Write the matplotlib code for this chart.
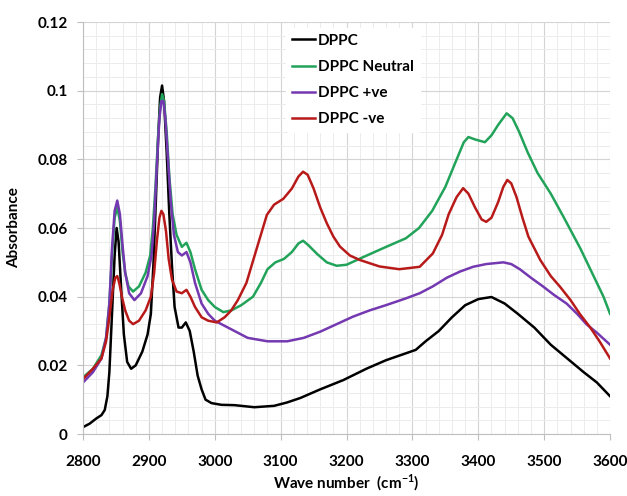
import numpy as np
import matplotlib
matplotlib.use("Agg")
import matplotlib.pyplot as plt
from matplotlib.ticker import MultipleLocator, FuncFormatter

plt.rcParams['font.family'] = ['Lato', 'DejaVu Sans']
plt.rcParams['font.weight'] = 'bold'
plt.rcParams['mathtext.fontset'] = 'custom'
plt.rcParams['mathtext.bf'] = 'Lato:bold'
plt.rcParams['mathtext.rm'] = 'Lato:bold'

# DPPC
x_dppc = [2800, 2810, 2820, 2828, 2833, 2837, 2840, 2844, 2848, 2851, 2854, 2858, 2862, 2867,
          2873, 2880, 2890, 2898, 2903, 2907, 2910, 2914, 2917, 2920, 2923, 2927, 2931, 2935,
          2939, 2945, 2950, 2956, 2962, 2968, 2974, 2980, 2986, 2995, 3010, 3030, 3060, 3090,
          3110, 3130, 3160, 3195, 3230, 3260, 3290, 3305, 3320, 3340, 3360, 3380, 3400, 3420,
          3440, 3460, 3485, 3510, 3535, 3560, 3580, 3600]
y_dppc = [.002, .003, .0045, .0055, .007, .011, .018, .035, .052, .060, .056, .042, .029, .021,
          .019, .020, .024, .029, .035, .050, .065, .086, .098, .1015, .097, .082, .064, .049,
          .037, .031, .031, .0325, .030, .024, .017, .013, .010, .009, .0085, .0084, .0078, .0082,
          .0092, .0105, .013, .0157, .019, .0215, .0235, .0245, .027, .030, .034, .0375, .0393, .0399,
          .038, .035, .031, .026, .022, .018, .015, .011]

# DPPC Neutral
x_neu = [2800, 2815, 2828, 2835, 2840, 2844, 2848, 2852, 2856, 2860, 2864, 2869, 2876, 2885,
         2895, 2902, 2906, 2910, 2914, 2917, 2920, 2923, 2927, 2931, 2936, 2942, 2950, 2957,
         2963, 2970, 2980, 2990, 3000, 3013, 3025, 3040, 3058, 3070, 3080, 3092, 3105, 3117,
         3127, 3134, 3142, 3155, 3170, 3185, 3200, 3225, 3260, 3290, 3310, 3330, 3350, 3365,
         3378, 3385, 3395, 3410, 3420, 3430, 3443, 3452, 3462, 3475, 3490, 3510, 3530, 3555,
         3575, 3590, 3600]
y_neu = [.0165, .019, .023, .028, .038, .052, .063, .066, .062, .053, .047, .043, .0415, .043,
         .047, .052, .060, .072, .087, .095, .099, .097, .088, .075, .064, .058, .0545, .0557,
         .053, .048, .042, .039, .037, .0355, .036, .0375, .040, .044, .048, .050, .051, .053,
         .0555, .0563, .055, .0525, .050, .049, .0493, .0515, .0545, .057, .060, .065, .072, .079,
         .085, .0865, .0858, .085, .087, .090, .0934, .092, .088, .082, .076, .070, .063, .054,
         .046, .040, .035]

# DPPC +ve
x_pos = [2800, 2815, 2828, 2835, 2840, 2844, 2848, 2852, 2856, 2860, 2864, 2870, 2878, 2888,
         2898, 2904, 2908, 2912, 2916, 2919, 2922, 2925, 2929, 2933, 2938, 2944, 2950, 2957,
         2963, 2970, 2980, 2990, 3000, 3010, 3030, 3050, 3080, 3110, 3135, 3160, 3185, 3210,
         3235, 3261, 3290, 3311, 3331, 3352, 3372, 3392, 3412, 3438, 3450, 3463, 3480, 3498,
         3515, 3534, 3550, 3564, 3580, 3600]
y_pos = [.015, .018, .022, .028, .038, .054, .065, .068, .064, .055, .047, .041, .039, .041,
         .046, .052, .062, .078, .092, .097, .097, .092, .080, .068, .058, .053, .052, .053,
         .050, .044, .038, .035, .033, .032, .030, .028, .027, .027, .028, .0298, .032, .0342,
         .036, .0376, .0395, .041, .043, .0455, .0473, .0487, .0495, .050, .0495, .048, .0455, .043,
         .0405, .038, .035, .032, .0295, .026]

# DPPC -ve
x_neg = [2800, 2815, 2828, 2835, 2840, 2845, 2849, 2852, 2855, 2859, 2864, 2870, 2876, 2885,
         2895, 2903, 2908, 2912, 2916, 2919, 2922, 2926, 2930, 2935, 2942, 2950, 2957, 2963,
         2970, 2980, 2990, 3003, 3015, 3025, 3035, 3048, 3063, 3079, 3090, 3104, 3117, 3127,
         3134, 3141, 3150, 3160, 3170, 3180, 3190, 3205, 3220, 3250, 3280, 3311, 3331, 3345,
         3355, 3367, 3377, 3385, 3395, 3405, 3412, 3420, 3430, 3438, 3444, 3450, 3458, 3467,
         3476, 3494, 3510, 3524, 3540, 3554, 3570, 3584, 3600]
y_neg = [.016, .019, .022, .027, .034, .042, .0455, .046, .044, .040, .036, .033, .032, .033,
         .036, .040, .047, .056, .063, .065, .064, .059, .051, .045, .0415, .041, .042, .040,
         .037, .034, .033, .0325, .034, .036, .039, .044, .0536, .0638, .0668, .0685, .0715, .075,
         .0764, .0755, .0715, .066, .0614, .0575, .0546, .052, .0507, .0488, .048, .0487, .0526, .058,
         .064, .069, .0716, .070, .066, .0625, .0618, .063, .0675, .072, .074, .073, .069, .063,
         .0575, .0507, .046, .0429, .039, .035, .031, .027, .022]

fig = plt.figure(figsize=(6.27, 4.96), dpi=100)
ax = fig.add_axes([0.1324, 0.125, 0.8406, 0.8306])

lw = 1.8
ax.plot(x_dppc, y_dppc, color='black', lw=lw, label='DPPC')
ax.plot(x_neu, y_neu, color='#22a35a', lw=lw, label='DPPC Neutral')
ax.plot(x_pos, y_pos, color='#7438b0', lw=lw, label='DPPC +ve')
ax.plot(x_neg, y_neg, color='#b81a1a', lw=lw, label='DPPC -ve')

ax.set_xlim(2800, 3600)
ax.set_ylim(0, 0.12)
ax.xaxis.set_major_locator(MultipleLocator(100))
ax.xaxis.set_minor_locator(MultipleLocator(20))
ax.yaxis.set_major_locator(MultipleLocator(0.02))
ax.yaxis.set_minor_locator(MultipleLocator(0.004))
ax.yaxis.set_major_formatter(FuncFormatter(lambda v, p: "%g" % round(v, 3)))
ax.grid(which='major', color='#d4d4d4', lw=0.8)
ax.grid(which='minor', color='#ececec', lw=0.7)
ax.set_axisbelow(True)
for s in ['top', 'right']:
    ax.spines[s].set_visible(False)
for s in ['left', 'bottom']:
    ax.spines[s].set_color('#bfbfbf')
ax.tick_params(which='major', length=4, color='#bfbfbf', labelsize=11)
ax.tick_params(axis='x', which='major', pad=11)
ax.tick_params(axis='y', which='major', pad=7)
ax.tick_params(which='minor', length=0)
for lab in ax.get_xticklabels() + ax.get_yticklabels():
    lab.set_fontweight('bold')

ax.set_xlabel("Wave number  (cm$^{\\mathbf{-1}}$)", fontsize=11, fontweight='bold', labelpad=3)
ax.set_ylabel("Absorbance", fontsize=11, fontweight='bold', labelpad=12)

leg = ax.legend(loc='upper left', bbox_to_anchor=(0.37, 1.005), frameon=True,
                handlelength=1.5, handletextpad=0.2, labelspacing=0.8,
                prop={'weight': 'bold', 'size': 11}, borderpad=0.4)
leg.get_frame().set_edgecolor('white')
leg.get_frame().set_facecolor('white')
leg.get_frame().set_alpha(1)

fig.savefig("out.png", dpi=100)
